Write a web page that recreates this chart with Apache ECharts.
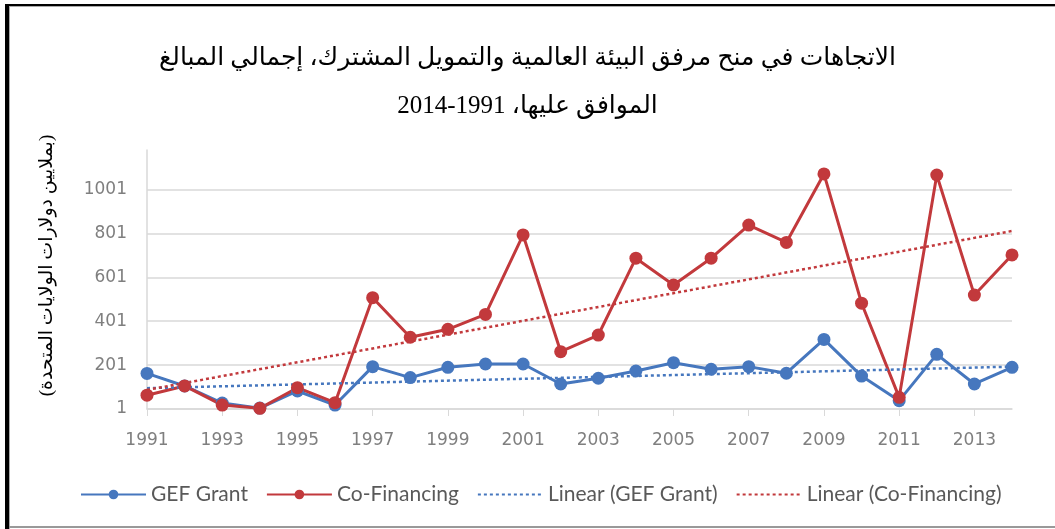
<!DOCTYPE html>
<html>
<head>
<meta charset="utf-8">
<script src="https://cdn.jsdelivr.net/npm/echarts@6/dist/echarts.min.js"></script>
<style>
  html, body { margin: 0; padding: 0; background: #fff; }
  #chart { width: 1055px; height: 529px; }
</style>
</head>
<body>
<div id="chart"></div>
<script>
  // data (millions of US$)
  var years = ['1991','1992','1993','1994','1995','1996','1997','1998','1999','2000','2001','2002',
               '2003','2004','2005','2006','2007','2008','2009','2010','2011','2012','2013','2014'];
  var gefGrant = [163, 106, 28, 5, 83, 19, 194, 144, 191, 206, 206, 115,
                  141, 174, 212, 182, 194, 164, 318, 151, 39, 250, 115, 191];
  var coFinancing = [64, 106, 19, 4, 98, 30, 508, 328, 364, 432, 794, 262,
                     338, 688, 566, 688, 839, 760, 1072, 483, 54, 1067, 520, 703];
  // trend line ends (first year, last year)
  var gefTrendEnds = [96, 194];
  var coTrendEnds = [88, 812];
  var yTicks = { min: 1, max: 1181, step: 200 };

  var titleText = 'الاتجاهات في منح مرفق البيئة العالمية والتمويل المشترك، إجمالي المبالغ\n' +
                  'الموافق عليها، 1991-2014';
  var yName = '(بملايين دولارات الولايات المتحدة)';

  var blue = '#4677be';
  var red = '#c2393c';

  function trendData(ends) {
    var arr = [];
    for (var i = 0; i < years.length; i++) arr.push(null);
    arr[0] = ends[0];
    arr[years.length - 1] = ends[1];
    return arr;
  }

  var myChart = echarts.init(document.getElementById('chart'));
  var option = {
    animation: false,
    title: {
      text: titleText,
      left: 'center',
      top: 29,
      padding: [5, 5, 5, 35],
      textStyle: {
        fontFamily: "'Liberation Serif', 'DejaVu Sans', serif",
        fontSize: 25,
        fontWeight: 'normal',
        color: '#000',
        lineHeight: 48
      }
    },
    grid: { left: 147, right: 43, top: 150, bottom: 120 },
    legend: {
      left: 75,
      top: 479,
      itemWidth: 65,
      itemHeight: 12,
      itemGap: 18,
      textStyle: { fontFamily: 'Lato', fontSize: 21, color: '#595959' },
      data: [
        'GEF Grant',
        'Co-Financing',
        { name: 'Linear (GEF Grant)', itemStyle: { opacity: 0 } },
        { name: 'Linear (Co-Financing)', itemStyle: { opacity: 0 } }
      ]
    },
    xAxis: {
      type: 'category',
      data: years,
      boundaryGap: false,
      axisLine: { lineStyle: { color: '#d9d9d9', width: 1.5 } },
      axisTick: { show: true, interval: 1, length: 7, lineStyle: { color: '#d9d9d9' } },
      axisLabel: {
        interval: 1,
        margin: 23,
        fontFamily: 'DejaVu Sans',
        fontSize: 17,
        color: '#7f7f7f'
      }
    },
    yAxis: {
      type: 'value',
      min: yTicks.min,
      max: yTicks.max,
      interval: yTicks.step,
      name: yName,
      nameLocation: 'middle',
      nameRotate: 90,
      nameGap: 90,
      nameTextStyle: {
        fontFamily: "'Liberation Serif', 'DejaVu Sans', serif",
        fontSize: 19,
        color: '#000',
        padding: [0, 0, 0, 28]
      },
      axisLine: { show: true, lineStyle: { color: '#d9d9d9', width: 1.5 } },
      axisTick: { show: false },
      axisLabel: {
        margin: 20,
        showMaxLabel: false,
        formatter: function (v) { return String(v); },
        fontFamily: 'DejaVu Sans',
        fontSize: 17,
        color: '#7f7f7f'
      },
      splitLine: { showMaxLine: false, lineStyle: { color: '#d9d9d9', width: 1.5 } }
    },
    series: [
      {
        name: 'GEF Grant',
        type: 'line',
        data: gefGrant,
        color: blue,
        symbol: 'circle',
        symbolSize: 13,
        lineStyle: { width: 3 }
      },
      {
        name: 'Co-Financing',
        type: 'line',
        data: coFinancing,
        color: red,
        symbol: 'circle',
        symbolSize: 13,
        lineStyle: { width: 3 }
      },
      {
        name: 'Linear (GEF Grant)',
        type: 'line',
        data: trendData(gefTrendEnds),
        connectNulls: true,
        color: blue,
        symbol: 'none',
        lineStyle: { width: 2.5, type: [3, 3] }
      },
      {
        name: 'Linear (Co-Financing)',
        type: 'line',
        data: trendData(coTrendEnds),
        connectNulls: true,
        color: red,
        symbol: 'none',
        lineStyle: { width: 2.5, type: [3, 3] }
      }
    ],
    graphic: [
      { type: 'rect', shape: { x: 5, y: 4, width: 1050, height: 2 }, style: { fill: '#000' } },
      { type: 'rect', shape: { x: 9, y: 6, width: 1046, height: 1 }, style: { fill: '#aaa' } },
      { type: 'rect', shape: { x: 5, y: 4, width: 4, height: 525 }, style: { fill: '#000' } },
      { type: 'rect', shape: { x: 9, y: 6, width: 1, height: 523 }, style: { fill: '#aaa' } },
      { type: 'rect', shape: { x: 9, y: 526, width: 1046, height: 2 }, style: { fill: '#999' } }
    ]
  };
  myChart.setOption(option);
</script>
</body>
</html>
